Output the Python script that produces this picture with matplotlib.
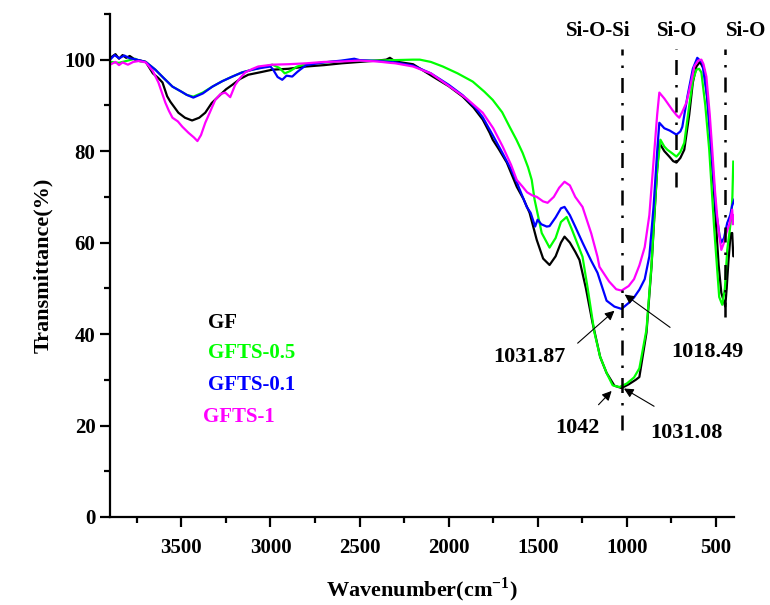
import numpy as np
import matplotlib
matplotlib.use('Agg')
import matplotlib.pyplot as plt
from matplotlib.ticker import MultipleLocator

plt.rcParams['font.family'] = ['Liberation Serif', 'DejaVu Serif']
plt.rcParams['font.weight'] = 'bold'
plt.rcParams['mathtext.fontset'] = 'custom'
plt.rcParams['mathtext.rm'] = 'Liberation Serif:bold'
plt.rcParams['mathtext.bf'] = 'Liberation Serif:bold'

# GF (black)
gf_x = [3895, 3870, 3850, 3830, 3810, 3790, 3760, 3730, 3700, 3660, 3630, 3606, 3580, 3562, 3517,
        3480, 3440, 3400, 3366, 3330, 3293, 3250, 3214, 3170, 3125, 3050, 2990, 2900, 2800, 2700,
        2600, 2500, 2400, 2350, 2330, 2300, 2200, 2089, 2000, 1921, 1860, 1809, 1770, 1753, 1720,
        1674, 1618, 1580, 1546, 1506, 1470, 1434, 1400, 1370, 1350, 1320, 1290, 1266, 1230, 1193,
        1150, 1114, 1070, 1030, 990, 950, 930, 890, 862, 846, 830, 818, 790, 762, 740, 722, 700,
        678, 650, 630, 610, 590, 566, 545, 526, 500, 485, 470, 448, 440, 430, 425, 418, 409, 403, 397]
gf_y = [100.5, 101.2, 100.2, 101.0, 100.4, 100.8, 100.0, 99.8, 99.5, 97.0, 96.0, 95.0, 92.0, 90.8, 88.4,
        87.3, 86.7, 87.3, 88.4, 90.5, 91.9, 93.5, 94.5, 95.8, 96.7, 97.3, 97.8, 98.0, 98.5, 98.8,
        99.2, 99.5, 99.8, 100.0, 100.4, 99.6, 99.0, 96.3, 94.2, 91.9, 89.5, 86.9, 84.0, 82.5, 80.5,
        77.5, 72.2, 69.5, 66.5, 60.6, 56.5, 55.1, 57.0, 60.0, 61.3, 60.0, 58.0, 56.2, 50.0, 42.5,
        35.0, 31.5, 28.7, 28.2, 29.0, 30.0, 30.6, 40.3, 54.7, 65.6, 76.0, 81.8, 80.0, 78.8, 77.8, 77.5, 78.5,
        80.3, 88.0, 95.0, 98.5, 99.5, 97.8, 90.0, 80.3, 64.0, 55.0, 49.0, 46.0, 50.0, 56.0, 58.4, 62.0, 62.1, 57.0, 57.0]

# GFTS-0.5 (green)
g05_x = [3895, 3850, 3800, 3760, 3730, 3700, 3646, 3600, 3550, 3500, 3470, 3433, 3380, 3326, 3270,
         3214, 3160, 3102, 3050, 2990, 2950, 2920, 2890, 2850, 2800, 2700, 2600, 2500, 2400, 2300,
         2200, 2162, 2100, 2033, 1950, 1865, 1800, 1753, 1700, 1658, 1620, 1585, 1555, 1534, 1518,
         1478, 1434, 1400, 1370, 1338, 1310, 1280, 1249, 1220, 1182, 1150, 1114, 1080, 1042, 1000,
         960, 930, 890, 862, 846, 830, 812, 790, 773, 745, 722, 700, 678, 650, 630, 610, 595, 582,
         560, 538, 510, 482, 465, 450, 437, 425, 414, 408, 403]
g05_y = [99.5, 99.3, 99.8, 100.2, 99.6, 99.5, 97.8, 96.0, 94.1, 93.0, 92.3, 91.9, 92.8, 94.1, 95.3,
         96.3, 97.2, 97.8, 98.3, 98.9, 98.2, 97.0, 97.5, 98.5, 99.0, 99.4, 99.7, 99.8, 99.8, 99.9,
         100.0, 100.0, 99.5, 98.5, 97.0, 95.2, 93.0, 91.2, 88.5, 85.3, 82.5, 79.6, 76.5, 73.7, 69.4,
         62.1, 58.9, 61.0, 64.5, 65.6, 63.0, 60.0, 56.9, 50.0, 40.3, 35.0, 31.5, 28.8, 28.4, 29.2,
         30.5, 32.5, 41.0, 55.0, 66.0, 76.0, 82.5, 81.0, 80.3, 79.5, 78.8, 79.8, 81.8, 90.0, 95.5, 97.8, 98.0, 97.2,
         90.0, 80.3, 63.0, 48.1, 46.4, 50.0, 58.4, 62.0, 65.6, 70.0, 77.7]

# GFTS-0.1 (blue)
g01_x = [3895, 3875, 3850, 3820, 3790, 3760, 3730, 3700, 3646, 3600, 3550, 3500, 3470, 3433, 3380,
         3326, 3270, 3214, 3160, 3102, 3050, 3000, 2985, 2960, 2934, 2910, 2878, 2850, 2834, 2800,
         2700, 2600, 2530, 2500, 2400, 2300, 2200, 2100, 2000, 1921, 1850, 1809, 1753, 1697, 1650,
         1618, 1590, 1562, 1540, 1515, 1501, 1480, 1450, 1434, 1400, 1370, 1350, 1320, 1290, 1249,
         1200, 1165, 1114, 1070, 1030, 990, 960, 930, 900, 874, 850, 830, 818, 790, 760, 722, 700,
         689, 660, 630, 605, 577, 550, 526, 500, 480, 470, 455, 437, 420, 410, 397]
g01_y = [100.2, 101.0, 100.3, 100.9, 100.3, 100.1, 99.8, 99.5, 97.8, 96.0, 94.1, 93.0, 92.3, 91.7, 92.6,
         94.1, 95.3, 96.3, 97.2, 97.8, 98.2, 98.5, 97.8, 96.2, 95.6, 96.5, 96.3, 97.3, 97.8, 98.8,
         99.4, 99.8, 100.2, 99.9, 99.7, 99.4, 98.7, 97.0, 94.5, 92.2, 89.5, 87.4, 83.5, 79.5, 76.0,
         73.2, 70.5, 67.8, 66.5, 63.5, 65.0, 64.0, 63.5, 63.6, 65.5, 67.5, 67.8, 66.0, 63.5, 60.0,
         56.0, 53.4, 47.3, 46.0, 45.5, 46.8, 48.0, 49.7, 52.0, 57.0, 68.0, 80.0, 86.2, 85.0, 84.5, 83.6, 84.3,
         85.3, 92.0, 98.0, 100.4, 99.3, 92.0, 80.3, 67.0, 61.5, 60.0, 61.0, 64.3, 66.0, 68.0, 69.4]

# GFTS-1 (magenta)
g1_x = [3895, 3870, 3850, 3830, 3800, 3770, 3740, 3700, 3660, 3629, 3590, 3570, 3550, 3520, 3494,
        3460, 3430, 3410, 3390, 3366, 3340, 3310, 3280, 3254, 3226, 3198, 3170, 3142, 3100, 3069,
        2990, 2900, 2800, 2700, 2600, 2500, 2400, 2330, 2300, 2200, 2100, 1994, 1900, 1809, 1750,
        1697, 1650, 1618, 1585, 1560, 1530, 1506, 1470, 1445, 1410, 1380, 1350, 1320, 1290, 1249,
        1200, 1165, 1154, 1100, 1060, 1030, 990, 960, 930, 900, 874, 850, 830, 818, 790, 745, 720,
        706, 690, 666, 640, 622, 600, 582, 570, 554, 535, 521, 505, 493, 480, 470, 455, 442, 425,
        409, 405, 400]
g1_y = [99.0, 99.5, 98.8, 99.4, 98.9, 99.5, 99.7, 99.4, 97.5, 95.0, 90.6, 88.8, 87.3, 86.5, 85.3,
        84.0, 83.0, 82.2, 83.5, 86.2, 88.5, 91.2, 92.5, 92.8, 91.8, 94.5, 96.0, 97.2, 98.0, 98.5,
        98.9, 99.0, 99.2, 99.5, 99.6, 99.8, 99.6, 99.3, 99.2, 98.5, 97.0, 94.1, 91.5, 88.4, 85.0,
        81.0, 77.0, 73.7, 72.2, 71.0, 70.3, 70.0, 69.0, 68.7, 70.0, 72.0, 73.3, 72.5, 70.0, 67.8,
        62.0, 56.9, 54.7, 51.5, 49.8, 49.5, 50.5, 52.0, 55.0, 59.0, 66.0, 78.0, 88.0, 92.8, 91.5, 89.0, 87.8,
        87.3, 88.5, 90.6, 95.0, 98.5, 99.8, 100.0, 99.0, 96.3, 88.0, 80.3, 71.0, 65.6, 61.0, 58.4, 60.0, 62.1, 64.0,
        67.2, 64.0, 66.0]

series_names = ['GF', 'GFTS-0.5', 'GFTS-0.1', 'GFTS-1']
series_colors = ['black', '#00ff00', 'blue', '#ff00ff']

band_x = [1025, 724, 448]
band_bottom = [19, 72.2, 43.8]
band_labels = ['Si-O-Si', 'Si-O', 'Si-O']
band_label_x = [1159, 717, 330]

peak_labels = ['1031.87', '1018.49', '1042', '1031.08']
peak_text_xy = [(1546, 35.0), (548, 36.1), (1277, 19.5), (666, 18.4)]
peak_tail = [(1288, 37.6), (745, 41.1), (1170, 24.1), (834, 23.9)]
peak_head = [(1058, 45.5), (1025, 49.0), (1075, 28.0), (1030, 28.4)]

fig = plt.figure(figsize=(7.7, 6.05), dpi=100)
ax = fig.add_axes([0.143, 0.1455, 0.81, 0.8315])

for xs, ys, c in zip([gf_x, g05_x, g01_x, g1_x], [gf_y, g05_y, g01_y, g1_y], series_colors):
    ax.plot(xs, ys, color=c, lw=1.6)

# band markers
for bx, bb, lab, lx in zip(band_x, band_bottom, band_labels, band_label_x):
    ax.plot([bx, bx], [bb, 102.4], color='black', lw=1.8, ls=(0, (6, 4, 1, 4)))
    ax.text(lx, 106.3, lab, ha='center', va='center', fontsize=15, fontweight='bold', clip_on=False)

for lab, txy, tail, head in zip(peak_labels, peak_text_xy, peak_tail, peak_head):
    ax.annotate('', xy=head, xytext=tail,
                arrowprops=dict(arrowstyle='-|>', color='black', lw=0.8, mutation_scale=14))
    ax.text(txy[0], txy[1], lab, ha='center', va='center', fontsize=16, fontweight='bold')

# legend as coloured text
legend_x = [3349, 3349, 3349, 3377]
legend_y = [42.5, 35.9, 28.9, 21.9]
for name, c, lx, ly in zip(series_names, series_colors, legend_x, legend_y):
    ax.text(lx, ly, name, color=c, ha='left', va='center', fontsize=15, fontweight='bold')

ax.set_xlim(3900, 400)
ax.set_ylim(0, 110)
ax.xaxis.set_major_locator(MultipleLocator(500))
ax.xaxis.set_minor_locator(MultipleLocator(250))
ax.yaxis.set_major_locator(MultipleLocator(20))
ax.yaxis.set_minor_locator(MultipleLocator(10))
ax.set_xticks([3500, 3000, 2500, 2000, 1500, 1000, 500])

for s in ['top', 'right']:
    ax.spines[s].set_visible(False)
for s in ['left', 'bottom']:
    ax.spines[s].set_linewidth(1.6)

ax.tick_params(which='major', direction='out', length=7, width=1.6, labelsize=15)
ax.tick_params(which='minor', direction='out', length=4, width=1.6)
ax.tick_params(axis='x', which='major', pad=8)
for lbl in ax.get_xticklabels() + ax.get_yticklabels():
    lbl.set_fontweight('bold')

ax.set_xlabel(r'Wavenumber(cm$^{\mathbf{-1}}$)', fontsize=16, fontweight='bold', labelpad=13)
ax.set_ylabel('Transmittance(%)', fontsize=16, fontweight='bold', labelpad=8)

fig.savefig('out.png', dpi=100)
